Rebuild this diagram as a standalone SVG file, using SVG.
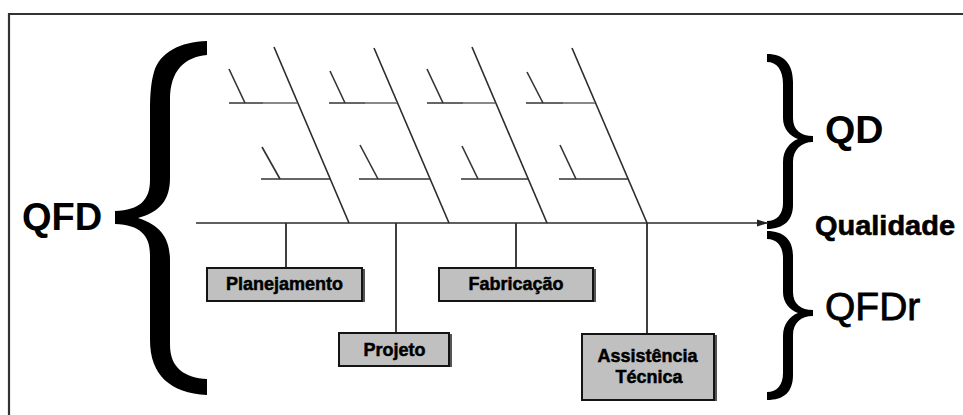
<svg xmlns="http://www.w3.org/2000/svg" width="963" height="415" viewBox="0 0 963 415">
  <defs>
    <style>
      .frame { fill: none; stroke: #333; stroke-width: 2.2; }
      .bone { stroke: #2b2b2b; stroke-width: 1.6; fill: none; }
      .rib { stroke: #333; stroke-width: 1.6; fill: none; }
      .rib-light { stroke: #888; stroke-width: 2; fill: none; }
      .link { stroke: #2b2b2b; stroke-width: 1.8; fill: none; }
      .brace { fill: #000; }
      .box { fill: #c0c0c0; stroke: #141414; stroke-width: 2; }
      .box-edge { stroke: #555; stroke-width: 2; }
      .box-text { font-family: "Liberation Sans", Arial, sans-serif; font-weight: bold; font-size: 18px; fill: #000; stroke: #000; stroke-width: 0.5; text-anchor: middle; }
      .big { font-family: "Liberation Sans", Arial, sans-serif; fill: #000; }
    </style>
    <marker id="arrow" markerUnits="userSpaceOnUse" markerWidth="12" markerHeight="8" refX="11" refY="4" orient="auto">
      <path d="M0,0.5 L11,4 L0,7.5 Z" fill="#222"/>
    </marker>
  </defs>

  <rect width="963" height="415" fill="#fff"/>

  <!-- outer frame, open to the right and bottom -->
  <path class="frame" d="M9,415 V14 H963"/>

  <!-- large curly braces -->
  <g id="brace-qfd">
    <path class="brace" d="M207,41 C180,42 160,52 154,72 C151,82 150,95 150,110 L150,180 C150,200 140,210 115,211 L115,224 C140,225 150,235 150,255 L150,340 C150,375 170,393 207,395 L207,379 C185,378 170,368 170,345 L170,260 C170,238 160,225 138,218 C160,212 170,200 170,178 L170,100 C170,70 185,57 207,55 Z"/>
  </g>
  <g id="brace-qd">
    <path class="brace" d="M767,54 C784,54 793,64 793,82 L793,118 C793,130 801,136 813,136 L813,142 C801,142 793,150 793,162 L793,205 C793,220 784,229 767,229 L767,221 C777,221 783,214 783,203 L783,162 C783,150 790,142 798,139 C790,136 783,129 783,118 L783,84 C783,70 777,62 767,62 Z"/>
  </g>
  <g id="brace-qfdr">
    <path class="brace" d="M767,231 C784,231 793,240 793,256 L793,292 C793,304 801,310 813,310 L813,316 C801,316 793,323 793,335 L793,375 C793,392 784,400 767,400 L767,392 C777,392 783,385 783,373 L783,336 C783,324 790,316 798,313 C790,310 783,303 783,292 L783,258 C783,246 777,239 767,239 Z"/>
  </g>

  <!-- fishbone skeleton and links to the boxes -->
  <g id="connectors">
    <!-- spine -->
    <line class="bone" x1="196" y1="223" x2="768" y2="223" marker-end="url(#arrow)"/>

    <!-- main bones -->
    <line class="bone" x1="274" y1="47" x2="349" y2="223"/>
    <line class="bone" x1="374" y1="48" x2="449" y2="223"/>
    <line class="bone" x1="472" y1="47" x2="547" y2="223"/>
    <line class="bone" x1="572" y1="48" x2="647" y2="223"/>

    <!-- upper ribs -->
    <line class="rib" x1="229" y1="103" x2="263" y2="103"/>
    <line class="rib-light" x1="263" y1="103" x2="297" y2="103"/>
    <line class="rib" x1="229" y1="69" x2="245" y2="103"/>

    <line class="rib" x1="329" y1="103" x2="365" y2="103"/>
    <line class="rib-light" x1="365" y1="103" x2="397" y2="103"/>
    <line class="rib" x1="330" y1="71" x2="345" y2="103"/>

    <line class="rib" x1="427" y1="103" x2="463" y2="103"/>
    <line class="rib-light" x1="463" y1="103" x2="495" y2="103"/>
    <line class="rib" x1="427" y1="69" x2="443" y2="103"/>

    <line class="rib" x1="526" y1="103" x2="563" y2="103"/>
    <line class="rib-light" x1="563" y1="103" x2="595" y2="103"/>
    <line class="rib" x1="527" y1="72" x2="543" y2="103"/>

    <!-- lower ribs -->
    <line class="rib" x1="261" y1="179" x2="331" y2="179"/>
    <line class="rib" x1="262" y1="147" x2="280" y2="179"/>

    <line class="rib" x1="359" y1="179" x2="430" y2="179"/>
    <line class="rib" x1="360" y1="145" x2="378" y2="179"/>

    <line class="rib" x1="461" y1="179" x2="528" y2="179"/>
    <line class="rib" x1="462" y1="146" x2="478" y2="179"/>

    <line class="rib" x1="559" y1="179" x2="628" y2="179"/>
    <line class="rib" x1="560" y1="145" x2="576" y2="179"/>

    <!-- drops from the spine to the boxes -->
    <line class="link" x1="286" y1="223" x2="286" y2="267"/>
    <line class="link" x1="396" y1="223" x2="396" y2="332"/>
    <line class="link" x1="516" y1="223" x2="516" y2="267"/>
    <line class="link" x1="647" y1="223" x2="647" y2="333"/>
  </g>

  <!-- stage boxes -->
  <g id="planejamento">
    <rect class="box" x="207" y="268" width="155" height="33"/>
    <line class="box-edge" x1="364" y1="269" x2="364" y2="302"/>
    <text class="box-text" x="284.5" y="290">Planejamento</text>
  </g>
  <g id="projeto">
    <rect class="box" x="339" y="333" width="110" height="33"/>
    <line class="box-edge" x1="451" y1="334" x2="451" y2="367"/>
    <text class="box-text" x="394.5" y="356">Projeto</text>
  </g>
  <g id="fabricacao">
    <rect class="box" x="439" y="268" width="154" height="33"/>
    <line class="box-edge" x1="595" y1="269" x2="595" y2="302"/>
    <text class="box-text" x="516" y="290">Fabricação</text>
  </g>
  <g id="assistencia-tecnica">
    <rect class="box" x="582" y="334" width="132" height="66"/>
    <line class="box-edge" x1="716" y1="335" x2="716" y2="401"/>
    <text class="box-text" x="647.5" y="362">Assistência</text>
    <text class="box-text" x="649" y="383">Técnica</text>
  </g>

  <!-- labels -->
  <g id="label-qfd">
    <text class="big" x="22" y="230" font-size="38" font-weight="bold">QFD</text>
  </g>
  <g id="label-qd">
    <text class="big" x="825" y="143" font-size="39" font-weight="bold">QD</text>
  </g>
  <g id="label-qualidade">
    <text class="big" x="815" y="235" font-size="28" font-weight="bold" stroke="#000" stroke-width="0.6" textLength="140" lengthAdjust="spacingAndGlyphs">Qualidade</text>
  </g>
  <g id="label-qfdr">
    <text class="big" x="825" y="320" font-size="39" stroke="#000" stroke-width="0.8">QFDr</text>
  </g>
</svg>
